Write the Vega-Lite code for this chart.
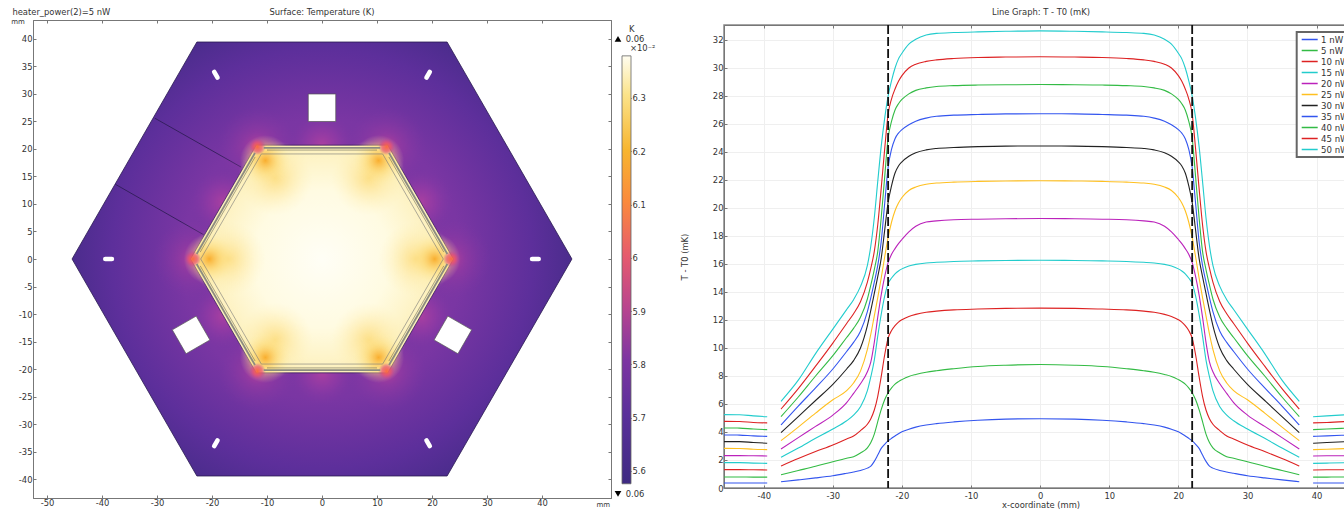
{"$schema":"https://vega.github.io/schema/vega-lite/v6.json","background":"white","padding":{"left":10,"top":7,"right":0,"bottom":0},"spacing":0,
"config":{"font":"DejaVu Sans","view":{"stroke":null},"title":{"font":"DejaVu Sans","fontSize":8.4,"fontWeight":"normal","color":"#333"},"axis":{"labelFont":"DejaVu Sans","labelFontSize":8.4,"labelColor":"#333","titleFont":"DejaVu Sans","titleFontSize":8.4,"titleFontWeight":"normal","titleColor":"#333","domainColor":"#777","tickColor":"#777","grid":false},"legend":{"labelFont":"DejaVu Sans","labelFontSize":8.6,"labelColor":"#333"}},
"datasets":{
"shapes":[
{"s":"outer","i":0,"x":-22.75,"y":39.45},{"s":"outer","i":1,"x":22.75,"y":39.45},{"s":"outer","i":2,"x":45.45,"y":0},{"s":"outer","i":3,"x":22.75,"y":-39.45},{"s":"outer","i":4,"x":-22.75,"y":-39.45},{"s":"outer","i":5,"x":-45.45,"y":0},{"s":"outer","i":6,"x":-22.75,"y":39.45},
{"s":"rim","i":0,"x":-11.95,"y":20.7},{"s":"rim","i":1,"x":11.95,"y":20.7},{"s":"rim","i":2,"x":23.9,"y":0},{"s":"rim","i":3,"x":11.95,"y":-20.7},{"s":"rim","i":4,"x":-11.95,"y":-20.7},{"s":"rim","i":5,"x":-23.9,"y":0},{"s":"rim","i":6,"x":-11.95,"y":20.7},
{"s":"inner","i":0,"x":-11.03,"y":19.1},{"s":"inner","i":1,"x":11.03,"y":19.1},{"s":"inner","i":2,"x":22.05,"y":0},{"s":"inner","i":3,"x":11.03,"y":-19.1},{"s":"inner","i":4,"x":-11.03,"y":-19.1},{"s":"inner","i":5,"x":-22.05,"y":0},{"s":"inner","i":6,"x":-11.03,"y":19.1},
{"s":"h1","i":0,"x":-2.5,"y":30},{"s":"h1","i":1,"x":2.5,"y":30},{"s":"h1","i":2,"x":2.5,"y":25},{"s":"h1","i":3,"x":-2.5,"y":25},{"s":"h1","i":4,"x":-2.5,"y":30},
{"s":"h2","i":0,"x":-22.88,"y":-10.38},{"s":"h2","i":1,"x":-27.22,"y":-12.88},{"s":"h2","i":2,"x":-24.72,"y":-17.22},{"s":"h2","i":3,"x":-20.38,"y":-14.72},{"s":"h2","i":4,"x":-22.88,"y":-10.38},
{"s":"h3","i":0,"x":22.88,"y":-10.38},{"s":"h3","i":1,"x":27.22,"y":-12.88},{"s":"h3","i":2,"x":24.72,"y":-17.22},{"s":"h3","i":3,"x":20.38,"y":-14.72},{"s":"h3","i":4,"x":22.88,"y":-10.38}],
"divs":[{"s":"a","x":-30.4,"y":25.6},{"s":"a","x":-14.7,"y":16.7},{"s":"b","x":-37.6,"y":13.6},{"s":"b","x":-21.5,"y":4.4}],
"slots":[{"s":"a","x":-19.6,"y":34.02},{"s":"a","x":-19,"y":32.98},{"s":"b","x":19.6,"y":34.02},{"s":"b","x":19,"y":32.98},{"s":"c","x":-19.6,"y":-34.02},{"s":"c","x":-19,"y":-32.98},{"s":"d","x":19.6,"y":-34.02},{"s":"d","x":19,"y":-32.98},{"s":"e","x":-39.4,"y":0},{"s":"e","x":-38.2,"y":0},{"s":"f","x":38.2,"y":0},{"s":"f","x":39.4,"y":0}],
"band":[{"s":"a","x":-10.6,"y":20.2},{"s":"a","x":10.6,"y":20.2},{"s":"b","x":-10.6,"y":-20.2},{"s":"b","x":10.6,"y":-20.2},{"s":"c","x":-12.19,"y":19.28},{"s":"c","x":-22.79,"y":0.92},{"s":"d","x":12.19,"y":19.28},{"s":"d","x":22.79,"y":0.92},{"s":"e","x":-12.19,"y":-19.28},{"s":"e","x":-22.79,"y":-0.92},{"s":"f","x":12.19,"y":-19.28},{"s":"f","x":22.79,"y":-0.92}],
"dark":[{"s":"a","x":-10,"y":19.8},{"s":"a","x":10,"y":19.8},{"s":"b","x":-10,"y":-19.8},{"s":"b","x":10,"y":-19.8},{"s":"c","x":-12.15,"y":18.56},{"s":"c","x":-22.15,"y":1.24},{"s":"d","x":12.15,"y":18.56},{"s":"d","x":22.15,"y":1.24},{"s":"e","x":-12.15,"y":-18.56},{"s":"e","x":-22.15,"y":-1.24},{"s":"f","x":12.15,"y":-18.56},{"s":"f","x":22.15,"y":-1.24}],
"mids":[{"x":0,"y":20.7},{"x":0,"y":-20.7},{"x":17.93,"y":10.35},{"x":-17.93,"y":10.35},{"x":17.93,"y":-10.35},{"x":-17.93,"y":-10.35}],
"verts":[{"x":23.5,"y":0},{"x":-23.5,"y":0},{"x":11.75,"y":20.4},{"x":-11.75,"y":20.4},{"x":11.75,"y":-20.4},{"x":-11.75,"y":-20.4}],
"amber":[{"x":20.5,"y":0},{"x":-20.5,"y":0},{"x":10.3,"y":17.9},{"x":-10.3,"y":17.9},{"x":10.3,"y":-17.9},{"x":-10.3,"y":-17.9}],
"pale":[{"x":17,"y":0},{"x":-17,"y":0},{"x":8.5,"y":14.7},{"x":-8.5,"y":14.7},{"x":8.5,"y":-14.7},{"x":-8.5,"y":-14.7}],
"curves":[
{"g":"p","x":-45.75,"a":0.36,"b":0.79,"c":1.31,"d":1.81,"e":2.31,"f":2.83,"h":3.31,"m":3.79,"n":4.29,"o":4.76,"q":5.24},
{"g":"p","x":-43.5,"a":0.36,"b":0.79,"c":1.31,"d":1.81,"e":2.31,"f":2.82,"h":3.31,"m":3.78,"n":4.28,"o":4.75,"q":5.23},
{"g":"p","x":-41.5,"a":0.36,"b":0.78,"c":1.3,"d":1.78,"e":2.3,"f":2.77,"h":3.25,"m":3.72,"n":4.21,"o":4.68,"q":5.15},
{"g":"p","x":-39.5,"a":0.36,"b":0.78,"c":1.29,"d":1.76,"e":2.29,"f":2.74,"h":3.2,"m":3.69,"n":4.17,"o":4.65,"q":5.09},
{"g":"r","x":-37.5,"a":0.45,"b":0.95,"c":1.57,"d":2.19,"e":2.79,"f":3.38,"h":3.95,"m":4.5,"n":5.1,"o":5.64,"q":6.19},
{"g":"r","x":-35,"a":0.58,"b":1.25,"c":2.1,"d":2.85,"e":3.6,"f":4.35,"h":5.1,"m":5.85,"n":6.5,"o":7.1,"q":7.7},
{"g":"r","x":-32.5,"a":0.72,"b":1.55,"c":2.6,"d":3.55,"e":4.4,"f":5.35,"h":6.25,"m":7.15,"n":8,"o":8.7,"q":9.6},
{"g":"r","x":-30,"a":0.88,"b":1.88,"c":3.07,"d":4.21,"e":5.21,"f":6.3,"h":7.4,"m":8.5,"n":9.45,"o":10.35,"q":11.35},
{"g":"r","x":-28,"a":1.05,"b":2.12,"c":3.5,"d":4.8,"e":6.1,"f":6.95,"h":8.5,"m":9.75,"n":10.75,"o":11.75,"q":12.75},
{"g":"r","x":-27,"a":1.14,"b":2.24,"c":3.71,"d":5.21,"e":6.76,"f":7.5,"h":9.1,"m":10.4,"n":11.4,"o":12.45,"q":13.45},
{"g":"r","x":-26,"a":1.25,"b":2.5,"c":4.1,"d":5.8,"e":7.45,"f":8.35,"h":10,"m":11.2,"n":12.2,"o":13.3,"q":14.4},
{"g":"r","x":-25,"a":1.42,"b":2.87,"c":4.55,"d":6.95,"e":8.3,"f":9.9,"h":11.6,"m":12.6,"n":13.5,"o":14.7,"q":15.9},
{"g":"r","x":-24.5,"a":1.56,"b":3.25,"c":4.95,"d":7.95,"e":9,"f":11,"h":12.7,"m":13.6,"n":14.5,"o":15.7,"q":17.3},
{"g":"r","x":-24,"a":1.9,"b":3.85,"c":5.57,"d":9.14,"e":10.4,"f":12.3,"h":13.9,"m":14.7,"n":15.6,"o":16.9,"q":19.3},
{"g":"r","x":-23.5,"a":2.35,"b":4.74,"c":6.55,"d":10.85,"e":12.2,"f":13.6,"h":15.1,"m":15.9,"n":16.9,"o":18.8,"q":21.9},
{"g":"r","x":-23,"a":2.83,"b":5.6,"c":7.95,"d":12.4,"e":13.8,"f":15,"h":16.4,"m":17.6,"n":19.3,"o":21.4,"q":24.4},
{"g":"r","x":-22.5,"a":3.12,"b":6.3,"c":9.5,"d":13.7,"e":15.1,"f":16.5,"h":18.4,"m":20.3,"n":22.2,"o":24.2,"q":26.4},
{"g":"r","x":-22,"a":3.36,"b":6.81,"c":10.7,"d":14.6,"e":16.1,"f":17.9,"h":20.4,"m":22.9,"n":25,"o":26.7,"q":28},
{"g":"r","x":-21.5,"a":3.55,"b":7.15,"c":11.25,"d":15,"e":16.7,"f":19,"h":21.6,"m":24.2,"n":26.2,"o":27.8,"q":29.1},
{"g":"r","x":-21,"a":3.72,"b":7.42,"c":11.6,"d":15.3,"e":17.1,"f":19.8,"h":22.5,"m":24.95,"n":27,"o":28.5,"q":30},
{"g":"r","x":-20.5,"a":3.88,"b":7.6,"c":11.85,"d":15.5,"e":17.45,"f":20.35,"h":23,"m":25.35,"n":27.45,"o":29.05,"q":30.65},
{"g":"r","x":-20,"a":4.01,"b":7.74,"c":12.02,"d":15.65,"e":17.75,"f":20.75,"h":23.3,"m":25.6,"n":27.75,"o":29.45,"q":31.05},
{"g":"r","x":-19,"a":4.2,"b":7.97,"c":12.25,"d":15.85,"e":18.3,"f":21.25,"h":23.7,"m":25.95,"n":28.15,"o":30,"q":31.7},
{"g":"r","x":-18,"a":4.35,"b":8.11,"c":12.4,"d":15.97,"e":18.7,"f":21.5,"h":23.95,"m":26.2,"n":28.4,"o":30.27,"q":32.05},
{"g":"r","x":-16.5,"a":4.5,"b":8.27,"c":12.55,"d":16.07,"e":19,"f":21.7,"h":24.15,"m":26.42,"n":28.58,"o":30.47,"q":32.35},
{"g":"r","x":-15,"a":4.6,"b":8.38,"c":12.63,"d":16.12,"e":19.08,"f":21.78,"h":24.25,"m":26.55,"n":28.68,"o":30.58,"q":32.47},
{"g":"r","x":-12.5,"a":4.72,"b":8.52,"c":12.72,"d":16.18,"e":19.16,"f":21.85,"h":24.32,"m":26.63,"n":28.74,"o":30.68,"q":32.53},
{"g":"r","x":-9,"a":4.84,"b":8.68,"c":12.78,"d":16.22,"e":19.2,"f":21.9,"h":24.38,"m":26.68,"n":28.78,"o":30.75,"q":32.58},
{"g":"r","x":-5,"a":4.92,"b":8.77,"c":12.83,"d":16.25,"e":19.23,"f":21.93,"h":24.42,"m":26.72,"n":28.8,"o":30.78,"q":32.62},
{"g":"r","x":0,"a":4.95,"b":8.82,"c":12.85,"d":16.27,"e":19.25,"f":21.95,"h":24.43,"m":26.73,"n":28.82,"o":30.8,"q":32.65},
{"g":"r","x":5,"a":4.92,"b":8.77,"c":12.83,"d":16.25,"e":19.23,"f":21.93,"h":24.42,"m":26.72,"n":28.8,"o":30.78,"q":32.62},
{"g":"r","x":9,"a":4.84,"b":8.68,"c":12.78,"d":16.22,"e":19.2,"f":21.9,"h":24.38,"m":26.68,"n":28.78,"o":30.75,"q":32.58},
{"g":"r","x":12.5,"a":4.72,"b":8.52,"c":12.72,"d":16.18,"e":19.16,"f":21.85,"h":24.32,"m":26.63,"n":28.74,"o":30.68,"q":32.53},
{"g":"r","x":15,"a":4.6,"b":8.38,"c":12.63,"d":16.12,"e":19.08,"f":21.78,"h":24.25,"m":26.55,"n":28.68,"o":30.58,"q":32.47},
{"g":"r","x":16.5,"a":4.5,"b":8.27,"c":12.55,"d":16.07,"e":19,"f":21.7,"h":24.15,"m":26.42,"n":28.58,"o":30.47,"q":32.35},
{"g":"r","x":18,"a":4.35,"b":8.11,"c":12.4,"d":15.97,"e":18.7,"f":21.5,"h":23.95,"m":26.2,"n":28.4,"o":30.27,"q":32.05},
{"g":"r","x":19,"a":4.2,"b":7.97,"c":12.25,"d":15.85,"e":18.3,"f":21.25,"h":23.7,"m":25.95,"n":28.15,"o":30,"q":31.7},
{"g":"r","x":20,"a":4.01,"b":7.74,"c":12.02,"d":15.65,"e":17.75,"f":20.75,"h":23.3,"m":25.6,"n":27.75,"o":29.45,"q":31.05},
{"g":"r","x":20.5,"a":3.88,"b":7.6,"c":11.85,"d":15.5,"e":17.45,"f":20.35,"h":23,"m":25.35,"n":27.45,"o":29.05,"q":30.65},
{"g":"r","x":21,"a":3.72,"b":7.42,"c":11.6,"d":15.3,"e":17.1,"f":19.8,"h":22.5,"m":24.95,"n":27,"o":28.5,"q":30},
{"g":"r","x":21.5,"a":3.55,"b":7.15,"c":11.25,"d":15,"e":16.7,"f":19,"h":21.6,"m":24.2,"n":26.2,"o":27.8,"q":29.1},
{"g":"r","x":22,"a":3.36,"b":6.81,"c":10.7,"d":14.6,"e":16.1,"f":17.9,"h":20.4,"m":22.9,"n":25,"o":26.7,"q":28},
{"g":"r","x":22.5,"a":3.12,"b":6.3,"c":9.5,"d":13.7,"e":15.1,"f":16.5,"h":18.4,"m":20.3,"n":22.2,"o":24.2,"q":26.4},
{"g":"r","x":23,"a":2.83,"b":5.6,"c":7.95,"d":12.4,"e":13.8,"f":15,"h":16.4,"m":17.6,"n":19.3,"o":21.4,"q":24.4},
{"g":"r","x":23.5,"a":2.35,"b":4.74,"c":6.55,"d":10.85,"e":12.2,"f":13.6,"h":15.1,"m":15.9,"n":16.9,"o":18.8,"q":21.9},
{"g":"r","x":24,"a":1.9,"b":3.85,"c":5.57,"d":9.14,"e":10.4,"f":12.3,"h":13.9,"m":14.7,"n":15.6,"o":16.9,"q":19.3},
{"g":"r","x":24.5,"a":1.56,"b":3.25,"c":4.95,"d":7.95,"e":9,"f":11,"h":12.7,"m":13.6,"n":14.5,"o":15.7,"q":17.3},
{"g":"r","x":25,"a":1.42,"b":2.87,"c":4.55,"d":6.95,"e":8.3,"f":9.9,"h":11.6,"m":12.6,"n":13.5,"o":14.7,"q":15.9},
{"g":"r","x":26,"a":1.25,"b":2.5,"c":4.1,"d":5.8,"e":7.45,"f":8.35,"h":10,"m":11.2,"n":12.2,"o":13.3,"q":14.4},
{"g":"r","x":27,"a":1.14,"b":2.24,"c":3.71,"d":5.21,"e":6.76,"f":7.5,"h":9.1,"m":10.4,"n":11.4,"o":12.45,"q":13.45},
{"g":"r","x":28,"a":1.05,"b":2.12,"c":3.5,"d":4.8,"e":6.1,"f":6.95,"h":8.5,"m":9.75,"n":10.75,"o":11.75,"q":12.75},
{"g":"r","x":30,"a":0.88,"b":1.88,"c":3.07,"d":4.21,"e":5.21,"f":6.3,"h":7.4,"m":8.5,"n":9.45,"o":10.35,"q":11.35},
{"g":"r","x":32.5,"a":0.72,"b":1.55,"c":2.6,"d":3.55,"e":4.4,"f":5.35,"h":6.25,"m":7.15,"n":8,"o":8.7,"q":9.6},
{"g":"r","x":35,"a":0.58,"b":1.25,"c":2.1,"d":2.85,"e":3.6,"f":4.35,"h":5.1,"m":5.85,"n":6.5,"o":7.1,"q":7.7},
{"g":"r","x":37.5,"a":0.45,"b":0.95,"c":1.57,"d":2.19,"e":2.79,"f":3.38,"h":3.95,"m":4.5,"n":5.1,"o":5.64,"q":6.19},
{"g":"t","x":39.5,"a":0.36,"b":0.78,"c":1.29,"d":1.76,"e":2.29,"f":2.74,"h":3.2,"m":3.69,"n":4.17,"o":4.65,"q":5.09},
{"g":"t","x":41.5,"a":0.36,"b":0.78,"c":1.3,"d":1.78,"e":2.3,"f":2.77,"h":3.25,"m":3.72,"n":4.21,"o":4.68,"q":5.15},
{"g":"t","x":44.3,"a":0.36,"b":0.79,"c":1.31,"d":1.81,"e":2.31,"f":2.82,"h":3.31,"m":3.78,"n":4.28,"o":4.75,"q":5.23}]
},
"hconcat":[
{"width":578,"height":478,
"view":{"stroke":"#777","strokeWidth":1},
"resolve":{"axis":{"x":"independent","y":"independent"}},
"layer":[
{"data":{"name":"shapes"},"transform":[{"filter":"datum.s=='outer'"}],"mark":{"type":"line","strokeWidth":0.8,"stroke":"#2a1a50","fill":{"gradient":"radial","x1":0.5,"y1":0.5,"r1":0,"x2":0.5,"y2":0.5,"r2":0.56,"stops":[{"offset":0,"color":"#8a3aa5"},{"offset":0.5,"color":"#7a36a3"},{"offset":0.75,"color":"#5d2f9b"},{"offset":1,"color":"#3e2a82"}]}},"encoding":{"x":{"field":"x","type":"quantitative","scale":{"domain":[-52.55,52.55],"nice":false,"zero":false},"axis":{"orient":"bottom","values":[-50,-40,-30,-20,-10,0,10,20,30,40],"labelExpr":"''+datum.value","tickSize":-3,"labelPadding":3,"title":null,"domainColor":"#777"}},"y":{"field":"y","type":"quantitative","scale":{"domain":[-43.45,43.45],"nice":false,"zero":false},"axis":{"orient":"left","values":[-40,-35,-30,-25,-20,-15,-10,-5,0,5,10,15,20,25,30,35,40],"labelExpr":"''+datum.value","tickSize":-3,"labelPadding":4,"title":null}},"order":{"field":"i"}}},
{"data":{"name":"shapes"},"transform":[{"filter":"datum.s=='outer'"}],"mark":{"type":"line","opacity":0},"encoding":{"x":{"field":"x","type":"quantitative","axis":{"orient":"top","values":[-50,-40,-30,-20,-10,0,10,20,30,40],"tickSize":-3,"labels":false,"title":null}},"y":{"field":"y","type":"quantitative","axis":{"orient":"right","values":[-40,-35,-30,-25,-20,-15,-10,-5,0,5,10,15,20,25,30,35,40],"tickSize":-3,"labels":false,"title":null}},"order":{"field":"i"}}},
{"data":{"name":"divs"},"mark":{"type":"line","stroke":"#2a1a50","strokeWidth":0.8},"encoding":{"x":{"field":"x","type":"quantitative","axis":null},"y":{"field":"y","type":"quantitative","axis":null},"detail":{"field":"s"}}},
{"data":{"name":"mids"},"mark":{"type":"point","filled":true,"opacity":1,"size":4200,"fill":{"gradient":"radial","x1":0.5,"y1":0.5,"r1":0,"x2":0.5,"y2":0.5,"r2":0.5,"stops":[{"offset":0,"color":"rgba(175,65,160,0.9)"},{"offset":0.5,"color":"rgba(160,60,165,0.45)"},{"offset":1,"color":"rgba(130,55,165,0)"}]}},"encoding":{"x":{"field":"x","type":"quantitative","axis":null},"y":{"field":"y","type":"quantitative","axis":null}}},
{"data":{"name":"verts"},"mark":{"type":"point","filled":true,"opacity":1,"size":6400,"fill":{"gradient":"radial","x1":0.5,"y1":0.5,"r1":0,"x2":0.5,"y2":0.5,"r2":0.5,"stops":[{"offset":0,"color":"rgba(190,65,150,0.9)"},{"offset":0.35,"color":"rgba(165,60,160,0.45)"},{"offset":1,"color":"rgba(130,55,165,0)"}]}},"encoding":{"x":{"field":"x","type":"quantitative","axis":null},"y":{"field":"y","type":"quantitative","axis":null}}},
{"data":{"name":"shapes"},"transform":[{"filter":"datum.s=='rim'"}],"mark":{"type":"line","strokeWidth":0.8,"stroke":"#3a2060","fill":{"gradient":"radial","x1":0.5,"y1":0.5,"r1":0,"x2":0.5,"y2":0.5,"r2":0.52,"stops":[{"offset":0,"color":"#fffef6"},{"offset":0.5,"color":"#fffbe2"},{"offset":0.85,"color":"#fdf0ba"},{"offset":1,"color":"#fce9a0"}]}},"encoding":{"x":{"field":"x","type":"quantitative","axis":null},"y":{"field":"y","type":"quantitative","axis":null},"order":{"field":"i"}}},
{"data":{"name":"pale"},"mark":{"type":"point","filled":true,"opacity":1,"size":5600,"fill":{"gradient":"radial","x1":0.5,"y1":0.5,"r1":0,"x2":0.5,"y2":0.5,"r2":0.5,"stops":[{"offset":0,"color":"rgba(253,215,110,0.75)"},{"offset":1,"color":"rgba(254,240,180,0)"}]}},"encoding":{"x":{"field":"x","type":"quantitative","axis":null},"y":{"field":"y","type":"quantitative","axis":null}}},
{"data":{"name":"amber"},"mark":{"type":"point","filled":true,"opacity":1,"size":2600,"fill":{"gradient":"radial","x1":0.5,"y1":0.5,"r1":0,"x2":0.5,"y2":0.5,"r2":0.5,"stops":[{"offset":0,"color":"rgba(248,170,40,0.95)"},{"offset":0.45,"color":"rgba(252,210,100,0.55)"},{"offset":1,"color":"rgba(255,240,170,0)"}]}},"encoding":{"x":{"field":"x","type":"quantitative","axis":null},"y":{"field":"y","type":"quantitative","axis":null}}},
{"data":{"name":"verts"},"mark":{"type":"point","filled":true,"opacity":1,"size":280,"fill":{"gradient":"radial","x1":0.5,"y1":0.5,"r1":0,"x2":0.5,"y2":0.5,"r2":0.5,"stops":[{"offset":0,"color":"rgba(250,110,60,1)"},{"offset":0.55,"color":"rgba(232,75,115,0.7)"},{"offset":1,"color":"rgba(190,60,150,0)"}]}},"encoding":{"x":{"field":"x","type":"quantitative","axis":null},"y":{"field":"y","type":"quantitative","axis":null}}},
{"data":{"name":"band"},"mark":{"type":"line","stroke":"#8c8c80","strokeWidth":1.8},"encoding":{"x":{"field":"x","type":"quantitative","axis":null},"y":{"field":"y","type":"quantitative","axis":null},"detail":{"field":"s"}}},
{"data":{"name":"dark"},"mark":{"type":"line","stroke":"#55554a","strokeWidth":0.5},"encoding":{"x":{"field":"x","type":"quantitative","axis":null},"y":{"field":"y","type":"quantitative","axis":null},"detail":{"field":"s"}}},
{"data":{"name":"shapes"},"transform":[{"filter":"datum.s=='inner'"}],"mark":{"type":"line","stroke":"#777","strokeWidth":0.6},"encoding":{"x":{"field":"x","type":"quantitative","axis":null},"y":{"field":"y","type":"quantitative","axis":null},"order":{"field":"i"}}},
{"data":{"name":"shapes"},"transform":[{"filter":"datum.s=='h1'||datum.s=='h2'||datum.s=='h3'"}],"mark":{"type":"line","stroke":"#555","strokeWidth":0.7,"fill":"white"},"encoding":{"x":{"field":"x","type":"quantitative","axis":null},"y":{"field":"y","type":"quantitative","axis":null},"detail":{"field":"s"},"order":{"field":"i"}}},
{"data":{"name":"slots"},"mark":{"type":"line","stroke":"white","strokeWidth":4.6,"strokeCap":"round"},"encoding":{"x":{"field":"x","type":"quantitative","axis":null},"y":{"field":"y","type":"quantitative","axis":null},"detail":{"field":"s"}}},
{"data":{"values":[{"x":-56.5,"y":43.1,"t":"mm"}]},"mark":{"type":"text","align":"left","baseline":"middle","fontSize":7,"color":"#333"},"encoding":{"x":{"field":"x","type":"quantitative","axis":null},"y":{"field":"y","type":"quantitative","axis":null},"text":{"field":"t"}}},
{"data":{"values":[{"x":52.4,"y":-44.8,"t":"mm"}]},"mark":{"type":"text","align":"right","baseline":"middle","fontSize":7,"color":"#333"},"encoding":{"x":{"field":"x","type":"quantitative","axis":null},"y":{"field":"y","type":"quantitative","axis":null},"text":{"field":"t"}}},
{"data":{"values":[{"x":-56.3,"y":44.9,"t":"heater_power(2)=5 nW"}]},"mark":{"type":"text","align":"left","baseline":"middle","fontSize":8.4,"color":"#333"},"encoding":{"x":{"field":"x","type":"quantitative","axis":null},"y":{"field":"y","type":"quantitative","axis":null},"text":{"field":"t"}}},
{"data":{"values":[{"x":0,"y":44.9,"t":"Surface: Temperature (K)"}]},"mark":{"type":"text","align":"center","baseline":"middle","fontSize":8.4,"color":"#333"},"encoding":{"x":{"field":"x","type":"quantitative","axis":null},"y":{"field":"y","type":"quantitative","axis":null},"text":{"field":"t"}}}
]},
{"width":68,"height":478,
"data":{"values":[{"a":10,"b":19,"lo":5.576,"hi":6.379}]},
"layer":[
{"mark":{"type":"rect","stroke":"#666","strokeWidth":0.8,"fill":{"gradient":"linear","x1":0,"y1":1,"x2":0,"y2":0,"stops":[{"offset":0,"color":"#3e2a82"},{"offset":0.16,"color":"#5a2f9a"},{"offset":0.29,"color":"#7d35a2"},{"offset":0.41,"color":"#b8448f"},{"offset":0.53,"color":"#e55a6f"},{"offset":0.66,"color":"#fb8a3c"},{"offset":0.78,"color":"#f7b52f"},{"offset":0.91,"color":"#fbe38a"},{"offset":1,"color":"#fffdf0"}]}},"encoding":{"x":{"field":"a","type":"quantitative","scale":{"domain":[0,68],"nice":false,"zero":false},"axis":null},"x2":{"field":"b"},"y":{"field":"lo","type":"quantitative","scale":{"domain":[5.5493,6.4463],"nice":false,"zero":false},"axis":{"orient":"right","offset":-49,"values":[5.6,5.7,5.8,5.9,6,6.1,6.2,6.3],"format":"~g","title":null,"domain":false,"tickSize":-2,"tickColor":"#333","labelPadding":3}},"y2":{"field":"hi"}}},
{"data":{"values":[{"x":17,"y":6.4295,"t":"K"},{"x":13.7,"y":6.411,"t":"0.06"},{"x":18,"y":6.394,"t":"×10⁻²"},{"x":13.7,"y":5.557,"t":"0.06"}]},"mark":{"type":"text","align":"left","baseline":"middle","fontSize":8.4,"color":"#333"},"encoding":{"x":{"field":"x","type":"quantitative"},"y":{"field":"y","type":"quantitative"},"text":{"field":"t"}}},
{"data":{"values":[{"x":6,"y":6.411,"s":"triangle-up"},{"x":6,"y":5.557,"s":"triangle-down"}]},"mark":{"type":"point","filled":true,"opacity":1,"size":45,"color":"black"},"encoding":{"x":{"field":"x","type":"quantitative"},"y":{"field":"y","type":"quantitative"},"shape":{"field":"s","type":"nominal","scale":{"domain":["triangle-up","triangle-down"],"range":["triangle-up","triangle-down"]},"legend":null}}}
]},
{"spacing":0,"vconcat":[
{"width":622,"height":3,"data":{"values":[{"x":317,"y":11,"t":"Line Graph: T - T0 (mK)"}]},"mark":{"type":"text","align":"center","baseline":"middle","fontSize":8.4,"color":"#333"},"encoding":{"x":{"field":"x","type":"quantitative","scale":{"domain":[0,622],"nice":false,"zero":false},"axis":null},"y":{"field":"y","type":"quantitative","scale":{"domain":[0,3],"nice":false,"zero":false},"axis":null},"text":{"field":"t"}}},
{"width":622,"height":463,
"view":{"stroke":"#888","strokeWidth":1.5},
"resolve":{"axis":{"x":"independent"}},
"layer":[
{"data":{"name":"curves"},"transform":[{"fold":["a","b","c","d","e","f","h","m","n","o","q"],"as":["s","v"]}],"mark":{"type":"line","interpolate":"monotone","strokeWidth":1.1,"clip":true},"encoding":{"x":{"field":"x","type":"quantitative","scale":{"domain":[-45.75,44.26],"nice":false,"zero":false},"axis":{"values":[-40,-30,-20,-10,0,10,20,30,40],"labelExpr":"''+datum.value","grid":true,"gridColor":"#efefef","tickSize":-3,"title":"x-coordinate (mm)","titlePadding":1.5,"titleX":316.5,"labelPadding":6}},"y":{"field":"v","type":"quantitative","scale":{"domain":[0,33.07],"nice":false,"zero":false},"axis":{"values":[0,2,4,6,8,10,12,14,16,18,20,22,24,26,28,30,32],"grid":true,"gridColor":"#efefef","tickSize":-3,"title":"T - T0 (mK)","titlePadding":22.5,"labelPadding":4}},"detail":{"field":"g"},"color":{"field":"s","type":"nominal","scale":{"domain":["a","b","c","d","e","f","h","m","n","o","q"],"range":["#3355ee","#33bb44","#dd2222","#22cccc","#bb22bb","#ffc020","#222222","#3355ef","#33bb45","#dd2223","#22cccd"]},"legend":{"orient":"none","legendX":1263.7,"legendY":12,"title":null,"symbolType":"stroke","symbolSize":256,"symbolStrokeWidth":1.5,"symbolOffset":2,"labelExpr":"{a:'1 nW',b:'5 nW',c:'10 nW',d:'15 nW',e:'20 nW',f:'25 nW',h:'30 nW',m:'35 nW',n:'40 nW',o:'45 nW',q:'50 nW'}[datum.label]","rowPadding":0,"clipHeight":11,"strokeColor":"#666","fillColor":"white","padding":2,"labelOffset":2.3,"encode":{"legend":{"update":{"strokeWidth":{"value":2}}}}}}}},
{"data":{"values":[{"x":-22},{"x":22}]},"mark":{"type":"rule","stroke":"#111","strokeWidth":1.8,"strokeDash":[9,3]},"encoding":{"x":{"field":"x","type":"quantitative","axis":{"orient":"top","values":[-40,-30,-20,-10,0,10,20,30,40],"labels":false,"tickSize":-3,"title":null}}}}
]}
]}
]}
